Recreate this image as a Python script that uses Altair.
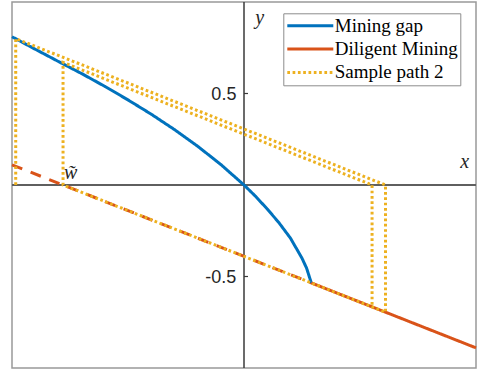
import altair as alt
import pandas as pd

# Mining gap curve
curve_x = [-1.00, -0.90, -0.80, -0.70, -0.60, -0.50, -0.40, -0.30, -0.20, -0.10,
           0.00, 0.05, 0.10, 0.15, 0.20, 0.25, 0.27, 0.29]
curve_y = [0.81, 0.742, 0.675, 0.609, 0.539, 0.465, 0.387, 0.303, 0.212, 0.112,
           0.000, -0.062, -0.131, -0.205, -0.290, -0.400, -0.455, -0.535]

# Diligent Mining line (dashed part, then solid part)
dil_dash_x = [-1.0, 0.29]
dil_dash_y = [0.11, -0.535]
dil_solid_x = [0.29, 1.0]
dil_solid_y = [-0.535, -0.89]

# Sample path 2
path_x = [-0.984, -0.984, 0.61, 0.61, -0.78, -0.78, 0.552, 0.552]
path_y = [0.0, 0.80, 0.0, -0.695, 0.0, 0.67, 0.0, -0.666]

# y ticks
tick_vals = [0.5, -0.5]
tick_text = ["0.5", "-0.5"]

# annotations
ann_text = ["y", "x", "w\u0303"]
ann_x = [0.068, 0.951, -0.747]
ann_y = [0.882, 0.095, 0.031]

series = ["Mining gap", "Diligent Mining", "Sample path 2"]
colors = ["#0072BD", "#D95319", "#EDB120"]
dashes = [[1, 0], [1, 0], [2.7, 2.6]]

xs = alt.Scale(domain=[-1, 1], nice=False, zero=False)
ys = alt.Scale(domain=[-1, 1], nice=False, zero=False)
X = alt.X("x:Q", scale=xs, axis=None)
Y = alt.Y("y:Q", scale=ys, axis=None)

rows = []
for k, (xx, yy) in enumerate(zip(curve_x, curve_y)):
    rows.append({"x": xx, "y": yy, "series": series[0], "seg": "a", "i": k})
for k, (xx, yy) in enumerate(zip(dil_solid_x, dil_solid_y)):
    rows.append({"x": xx, "y": yy, "series": series[1], "seg": "b", "i": k})
for k, (xx, yy) in enumerate(zip(path_x, path_y)):
    rows.append({"x": xx, "y": yy, "series": series[2], "seg": "c", "i": k})
df_lines = pd.DataFrame(rows)
df_dd = pd.DataFrame({"x": dil_dash_x, "y": dil_dash_y, "i": [0, 1]})
df_ticks = pd.DataFrame({"y": tick_vals, "label": tick_text, "x0": [0.0, 0.0]})
df_ann = pd.DataFrame({"x": ann_x, "y": ann_y, "t": ann_text})
df_zero = pd.DataFrame({"x": [0.0], "y": [0.0]})

xaxis = alt.Chart(df_zero).mark_rule(color="#5f5f5f", strokeWidth=2).encode(y=Y)
yaxis = alt.Chart(df_zero).mark_rule(color="#3a3a3a", strokeWidth=1.5).encode(x=X)

ticks = alt.Chart(df_ticks).mark_rule(color="#3a3a3a", strokeWidth=1.2, x2Offset=4).encode(
    x=alt.X("x0:Q", scale=xs, axis=None), x2="x0:Q", y=Y)
tick_labels = alt.Chart(df_ticks).mark_text(
    align="right", baseline="middle", dx=-7.6, dy=1.8, font="Liberation Sans",
    fontSize=18, color="#262626").encode(
    x=alt.X("x0:Q", scale=xs, axis=None), y=Y, text="label:N")

orange_dash = alt.Chart(df_dd).mark_line(
    strokeWidth=3, strokeDash=[11, 9], color=colors[1]).encode(x=X, y=Y, order="i:Q")

lines = alt.Chart(df_lines).mark_line(strokeWidth=3).encode(
    x=X, y=Y,
    color=alt.Color("series:N", scale=alt.Scale(domain=series, range=colors),
                    sort=series, legend=alt.Legend(title=None)),
    strokeDash=alt.StrokeDash("series:N", scale=alt.Scale(domain=series, range=dashes),
                              sort=series, legend=alt.Legend(title=None)),
    detail="seg:N",
    order="i:Q")

ann = alt.Chart(df_ann).mark_text(
    font="Liberation Serif", fontStyle="italic", fontSize=20, baseline="alphabetic",
    align="center", color="#262626").encode(x=X, y=Y, text="t:N")

chart = alt.layer(
    xaxis, yaxis, ticks, tick_labels, orange_dash, lines, ann
).properties(
    width=464, height=366,
    autosize=alt.AutoSizeParams(type="none"),
    padding={"left": 12, "top": 2, "right": 2, "bottom": 7},
    background="white",
).configure_view(
    stroke="#999999", strokeWidth=1.5
).configure_legend(
    orient="none", legendX=271.3, legendY=11.3, padding=2.5,
    strokeColor="#8c8c8c", fillColor="white",
    symbolType="stroke", symbolSize=2116, symbolStrokeWidth=3,
    clipHeight=20, rowPadding=3.3,
    labelFont="Liberation Serif", labelFontSize=19, labelColor="black",
    labelOffset=0, labelLimit=300, cornerRadius=0,
)

chart.save("out.html", embed_options={"renderer": "svg", "actions": False})
